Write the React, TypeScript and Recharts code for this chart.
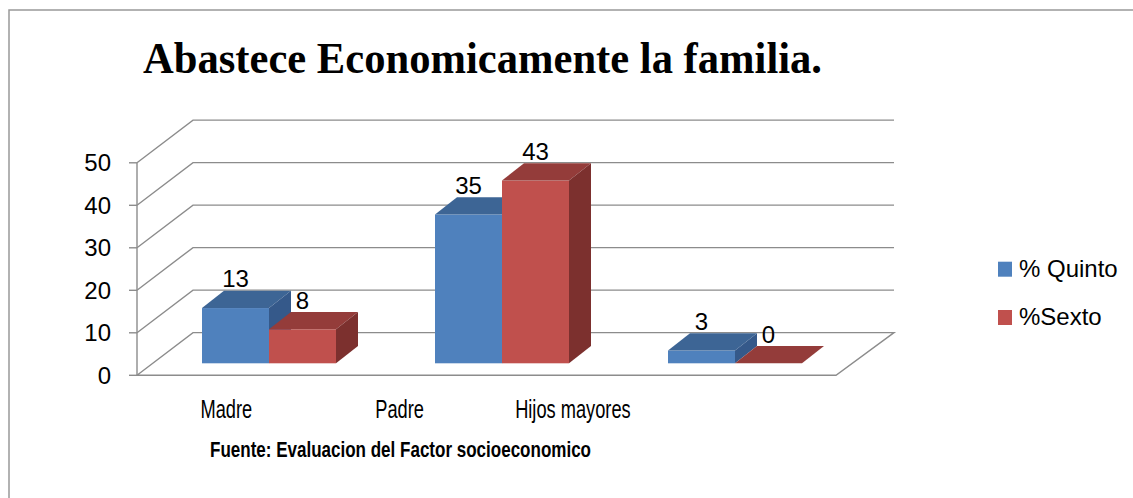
import React from "react";
import { BarChart, Bar, XAxis, YAxis, CartesianGrid, Legend, LabelList } from "recharts";

const categories = ["Madre", "Padre", "Hijos mayores"];
const quinto = [13, 35, 3];
const sexto = [8, 43, 0];
const yTicks = [0, 10, 20, 30, 40, 50];

const data = categories.map((name, i) => ({ name, quinto: quinto[i], sexto: sexto[i] }));

const W = 1133;
const H = 498;
const SANS = "'Liberation Sans', Arial, sans-serif";
const GRID = "#8c8c8c";

// oblique "3D" offsets, measured from the plane the bars stand in
const FRONT = { dx: -15, dy: 12 };
const BACK = { dx: 41, dy: -30.7 };
const BOX = { dx: 22, dy: 17.3 };

// Excel squeezes the category labels towards the left
const LABEL_ANCHOR = 104;
const LABEL_SQUEEZE = 0.7437;

const SERIES = [
    { key: "quinto", name: "% Quinto", front: "#4F81BD", top: "#3D6595", side: "#35598A" },
    { key: "sexto", name: "%Sexto", front: "#C0504D", top: "#943C3A", side: "#7C302E" },
];

type Colors = (typeof SERIES)[number];

function boxShape(c: Colors) {
    return (props: any) => {
        const { x, y, width: w, height: h } = props;
        const { dx, dy } = BOX;
        return (
            <g>
                <rect x={x} y={y} width={w} height={Math.max(h, 0)} fill={c.front} />
                <polygon
                    points={`${x},${y} ${x + dx},${y - dy} ${x + w + dx},${y - dy} ${x + w},${y}`}
                    fill={c.top}
                />
                <polygon
                    points={`${x + w},${y} ${x + w + dx},${y - dy} ${x + w + dx},${y + h - dy} ${x + w},${y + h}`}
                    fill={c.side}
                />
            </g>
        );
    };
}

function ValueLabel(props: any) {
    const { x, y, width, value } = props;
    return (
        <text
            x={Number(x) + Number(width) / 2}
            y={Number(y) - BOX.dy - 3.5}
            textAnchor="middle"
            fontSize={24}
            fontFamily={SANS}
            fill="#000"
        >
            {value}
        </text>
    );
}

function GridLine(props: any) {
    const { x1, x2, y1, horizontalPoints, index } = props;
    const pts: number[] = horizontalPoints || [];
    const bottom = pts.length ? Math.max(...pts) : y1;
    const top = pts.length ? Math.min(...pts) : y1;
    const isFloor = pts.length ? Math.abs(y1 - bottom) < 0.5 : index === 0;

    const fx = x1 + FRONT.dx;
    const fy = y1 + FRONT.dy;
    const bx = x1 + BACK.dx;
    const by = y1 + BACK.dy;
    const rx = x2 + BACK.dx + 2;
    const line = { stroke: GRID, strokeWidth: 1.4, fill: "none" };

    return (
        <g>
            {isFloor ? (
                <polygon points={`${fx},${fy} ${bx},${by} ${rx},${by} ${x2 + FRONT.dx},${fy}`} {...line} />
            ) : (
                <polyline points={`${fx},${fy} ${bx},${by} ${rx},${by}`} {...line} />
            )}
            <line x1={fx - 8} y1={fy} x2={fx} y2={fy} {...line} />
            {isFloor && <line x1={fx} y1={top + FRONT.dy} x2={fx} y2={fy} {...line} />}
        </g>
    );
}

function ValueTick(props: any) {
    const { x, y, payload } = props;
    return (
        <text
            x={x + FRONT.dx}
            y={y + FRONT.dy}
            textAnchor="end"
            dominantBaseline="central"
            fontSize={24}
            fontFamily={SANS}
            fill="#000"
        >
            {payload.value}
        </text>
    );
}

function CategoryTick(props: any) {
    const { x, y, payload } = props;
    const lx = LABEL_ANCHOR + (x - LABEL_ANCHOR) * LABEL_SQUEEZE;
    return (
        <text
            transform={`translate(${lx},${y + 46.5}) scale(0.73,1)`}
            textAnchor="middle"
            fontSize={25}
            fontFamily={SANS}
            fill="#000"
        >
            {payload.value}
        </text>
    );
}

function LegendBox(props: any) {
    const items = props.payload || [];
    return (
        <svg width={135} height={80}>
            {items.map((item: any, i: number) => (
                <g key={item.value}>
                    <rect x={0} y={6.7 + i * 48.3} width={14} height={15} fill={item.color} />
                    <text x={21} y={21.7 + i * 48.3} fontSize={24} fontFamily={SANS} fill="#000">
                        {item.value}
                    </text>
                </g>
            ))}
        </svg>
    );
}

export default function App() {
    return (
        <div style={{ position: "absolute", left: 0, top: 0, width: W, height: H, background: "#fff" }}>
            <svg width={W} height={H} style={{ position: "absolute", left: 0, top: 0 }}>
                <polyline points={`${W},10 9,10 9,${H}`} fill="none" stroke="#999" strokeWidth={1.5} />
                <text
                    x={143}
                    y={73.3}
                    textLength={679}
                    lengthAdjust="spacingAndGlyphs"
                    fontSize={44}
                    fontWeight="bold"
                    fontFamily="'Liberation Serif', 'Times New Roman', serif"
                    fill="#000"
                >
                    Abastece Economicamente la familia.
                </text>
                <text
                    x={210}
                    y={457}
                    textLength={381}
                    lengthAdjust="spacingAndGlyphs"
                    fontSize={22}
                    fontWeight="bold"
                    fontFamily={SANS}
                    fill="#000"
                >
                    Fuente: Evaluacion del Factor socioeconomico
                </text>
            </svg>
            <div style={{ position: "absolute", left: 0, top: 0 }}>
                <BarChart
                    width={W}
                    height={H}
                    data={data}
                    margin={{ top: 150.8, right: 282, bottom: 104.7, left: 92 }}
                    barCategoryGap={50}
                    barGap={0}
                >
                    <CartesianGrid vertical={false} horizontal={GridLine} />
                    <XAxis
                        dataKey="name"
                        height={30}
                        axisLine={false}
                        tickLine={false}
                        tick={CategoryTick}
                        interval={0}
                    />
                    <YAxis
                        width={60}
                        domain={[0, 50]}
                        ticks={yTicks}
                        axisLine={false}
                        tickLine={false}
                        tickMargin={20}
                        tick={ValueTick}
                    />
                    <Legend
                        layout="vertical"
                        align="center"
                        verticalAlign="middle"
                        content={LegendBox}
                        wrapperStyle={{ left: 998, top: 255, width: 135, height: 80 }}
                    />
                    {SERIES.map((s) => (
                        <Bar
                            key={s.key}
                            dataKey={s.key}
                            name={s.name}
                            fill={s.front}
                            shape={boxShape(s)}
                            isAnimationActive={false}
                        >
                            <LabelList dataKey={s.key} content={ValueLabel} />
                        </Bar>
                    ))}
                </BarChart>
            </div>
        </div>
    );
}
